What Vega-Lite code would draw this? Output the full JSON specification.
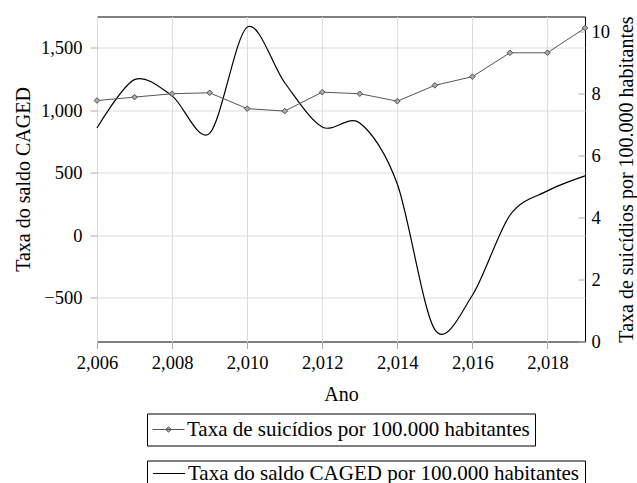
{
  "$schema": "https://vega.github.io/schema/vega-lite/v6.json",
  "width": 488,
  "height": 325,
  "autosize": "none",
  "padding": {"left": 97, "top": 16.5, "right": 52, "bottom": 141.5},
  "background": "white",
  "config": {
    "font": "Liberation Serif",
    "view": {"stroke": "black", "strokeWidth": 1},
    "axis": {
      "labelFont": "Liberation Serif",
      "titleFont": "Liberation Serif",
      "labelFontSize": 18.5,
      "titleFontSize": 20,
      "titleFontWeight": "normal",
      "labelColor": "black",
      "titleColor": "black",
      "gridColor": "#dcdcdc",
      "gridWidth": 1,
      "tickColor": "#aaaaaa",
      "domain": false,
      "labelFlush": false,
      "labelOverlap": false,
      "titleLimit": 1000
    },
    "legend": {
      "labelFont": "Liberation Serif",
      "labelFontSize": 21,
      "labelColor": "black",
      "labelLimit": 1000,
      "strokeColor": "black",
      "fillColor": "white",
      "padding": 5,
      "labelOffset": 2,
      "clipHeight": 22,
      "orient": "none"
    }
  },
  "data": {
    "values": [
      {"ano": 2006, "caged": 858, "suicidio": 7.77},
      {"ano": 2007, "caged": 1245, "suicidio": 7.88},
      {"ano": 2008, "caged": 1115, "suicidio": 7.99},
      {"ano": 2009, "caged": 815, "suicidio": 8.02},
      {"ano": 2010, "caged": 1665, "suicidio": 7.51},
      {"ano": 2011, "caged": 1220, "suicidio": 7.43},
      {"ano": 2012, "caged": 866, "suicidio": 8.04},
      {"ano": 2013, "caged": 898, "suicidio": 7.99},
      {"ano": 2014, "caged": 410, "suicidio": 7.75},
      {"ano": 2015, "caged": -755, "suicidio": 8.26},
      {"ano": 2016, "caged": -480, "suicidio": 8.54},
      {"ano": 2017, "caged": 160, "suicidio": 9.31},
      {"ano": 2018, "caged": 355, "suicidio": 9.31},
      {"ano": 2019, "caged": 475, "suicidio": 10.11}
    ]
  },
  "layer": [
    {
      "mark": {"type": "line", "interpolate": "cardinal", "tension": 0.08, "strokeWidth": 1.2},
      "encoding": {
        "x": {
          "field": "ano", "type": "quantitative",
          "scale": {"domain": [2006, 2019], "nice": false, "zero": false},
          "axis": {
            "values": [2006, 2008, 2010, 2012, 2014, 2016, 2018],
            "format": ",d", "title": "Ano", "grid": true,
            "tickSize": 7, "labelPadding": 5,
            "titleY": 52.5, "titleBaseline": "middle"
          }
        },
        "y": {
          "field": "caged", "type": "quantitative",
          "scale": {"domain": [-850, 1750], "nice": false, "zero": false},
          "axis": {
            "values": [-500, 0, 500, 1000, 1500],
            "format": ",d", "title": "Taxa do saldo CAGED", "grid": true,
            "tickSize": 7, "labelPadding": 8,
            "titleX": -74, "titleY": 162.5, "titleAngle": -90,
            "titleBaseline": "middle", "titleAlign": "center"
          }
        },
        "color": {
          "datum": "Taxa do saldo CAGED por 100.000 habitantes",
          "scale": {"range": ["black"]},
          "legend": {
            "title": null,
            "legendX": 50, "legendY": 444,
            "clipHeight": 16,
            "symbolType": "M-1,0L1,0",
            "symbolSize": 1024,
            "symbolStrokeWidth": 1.2
          }
        }
      }
    },
    {
      "encoding": {
        "x": {"field": "ano", "type": "quantitative"},
        "y": {
          "field": "suicidio", "type": "quantitative",
          "scale": {"domain": [0, 10.48], "nice": false, "zero": true},
          "axis": {
            "orient": "right",
            "values": [0, 2, 4, 6, 8, 10],
            "format": "d", "grid": false,
            "tickSize": -7, "labelPadding": 13,
            "title": "Taxa de suicídios por 100.000 habitantes",
            "titleX": 41, "titleY": 162.5, "titleAngle": -90,
            "titleBaseline": "middle", "titleAlign": "center"
          }
        }
      },
      "layer": [
        {
          "mark": {"type": "line", "strokeWidth": 1},
          "encoding": {
            "color": {
              "datum": "Taxa de suicídios por 100.000 habitantes",
              "scale": {"range": ["#555555"]},
              "legend": {
                "title": null,
                "legendX": 50, "legendY": 397,
                "symbolType": "M-1,0L1,0M0,-0.17L0.17,0L0,0.17L-0.17,0Z",
                "symbolSize": 1024,
                "symbolStrokeWidth": 1,
                "symbolFillColor": "#aaaaaa",
                "encode": {"symbols": {"update": {"fill": {"value": "#aaaaaa"}}}}
              }
            }
          }
        },
        {
          "mark": {"type": "point", "shape": "diamond", "filled": true, "fill": "#aaaaaa", "stroke": "#444444", "strokeWidth": 0.9, "size": 32, "opacity": 1}
        }
      ]
    }
  ],
  "resolve": {"scale": {"y": "independent", "color": "independent"}}
}
